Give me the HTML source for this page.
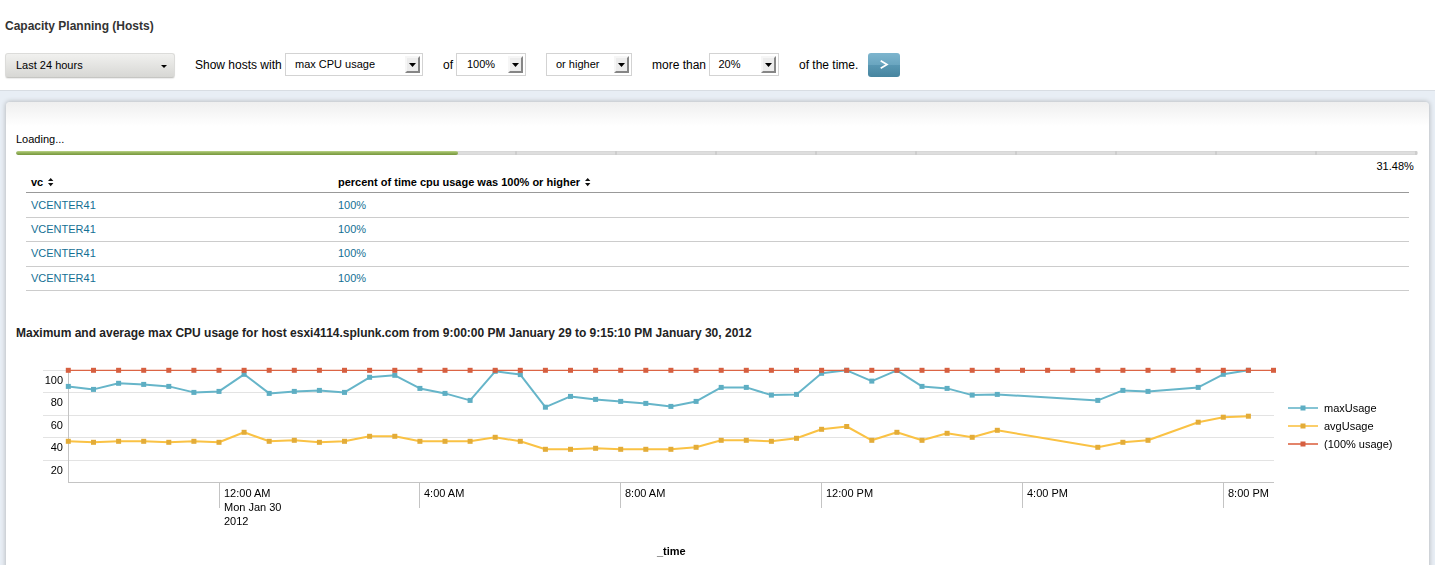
<!DOCTYPE html>
<html><head><meta charset="utf-8"><title>Capacity Planning (Hosts)</title>
<style>
html,body{margin:0;padding:0;background:#fff;}
body{width:1435px;height:565px;position:relative;overflow:hidden;font-family:"Liberation Sans",sans-serif;color:#000;}
.t{position:absolute;white-space:nowrap;font-size:12px;line-height:14px;color:#000;}
.b{font-weight:bold;}
.s11{font-size:11px;}
.s12{font-size:12px;}
.lnk{color:#146f94;}
.ax{font-size:11px;color:#000;will-change:transform;}
#band{position:absolute;left:0;top:90px;width:1435px;height:475px;background:#e8eef5;border-top:1px solid #d8dde3;box-sizing:border-box;}
#panel{position:absolute;left:6px;top:101.5px;width:1423px;height:480px;background:linear-gradient(#efefef 0px,#fff 24px);border-radius:4px;box-shadow:0 0 4px 1px #bdc0c4;}
#trp{position:absolute;left:5px;top:53px;width:170px;height:25px;box-sizing:border-box;border:1px solid #dcdcda;border-bottom-color:#c6c6c3;border-radius:3px;background:linear-gradient(#f1f1ef,#d7d7d4);box-shadow:0 1px 1px #ececec;}
.sel{position:absolute;top:53px;height:23px;box-sizing:border-box;border:1px solid #d3d3d3;background:#fff;}
.sel .arr{position:absolute;right:2px;top:2px;width:15px;height:17px;border-right:2px solid #868686;border-bottom:2px solid #868686;border-left:2px solid #f6f6f6;border-top:2px solid #f6f6f6;box-sizing:border-box;background:#ececec;}
.sel .arr:after{content:"";position:absolute;left:2px;top:5px;width:7px;height:4px;background:#000;clip-path:polygon(0 0,100% 0,50% 100%);}
#go{position:absolute;left:868px;top:53px;width:32px;height:24px;border-radius:3px;background:linear-gradient(#7db5ce 0%,#6aa5bf 49%,#5896b2 51%,#47859f 100%);color:#fff;font-size:13px;font-weight:bold;text-align:center;line-height:22px;}
.hr{position:absolute;left:26px;width:1383px;height:1px;background:#ccc;}
#pbar{position:absolute;left:16px;top:151px;width:1402px;height:4px;background:linear-gradient(#d2d2d2,#dedede 30%,#dedede 70%,#d2d2d2);border-radius:2px;overflow:hidden;}
#pfill{position:absolute;left:0;top:0;width:442px;height:4px;border-radius:2px;background:linear-gradient(#bcd489,#93b259 45%,#77973f);}
.ptick{position:absolute;top:0;width:2px;height:4px;background:#cdcdcd;}
</style></head><body>
<div class="t b" style="left:5px;top:19px;color:#333">Capacity Planning (Hosts)</div>
<div id="trp"></div>
<div class="t s11" style="left:16px;top:58px;">Last 24 hours</div>
<div style="position:absolute;left:160.5px;top:65px;border-left:3px solid transparent;border-right:3px solid transparent;border-top:3px solid #000;"></div>
<div class="t s12" style="left:195px;top:58px;">Show hosts with</div>
<div class="sel" style="left:285px;width:138px"><div class="arr"></div></div>
<div class="t s11" style="left:295px;top:57px;">max CPU usage</div>
<div class="t s12" style="left:443px;top:58px;">of</div>
<div class="sel" style="left:456px;width:70px"><div class="arr"></div></div>
<div class="t s11" style="left:467px;top:57px;">100%</div>
<div class="sel" style="left:546px;width:86px"><div class="arr"></div></div>
<div class="t s11" style="left:556px;top:57px;">or higher</div>
<div class="t s12" style="left:652px;top:58px;">more than</div>
<div class="sel" style="left:709px;width:70px"><div class="arr"></div></div>
<div class="t s11" style="left:718.5px;top:57px;">20%</div>
<div class="t s12" style="left:799px;top:58px;">of the time.</div>
<div id="go"><svg width="32" height="24" style="position:absolute;left:0;top:0"><polyline points="12.7,7.7 19,11.5 12.7,15.3" fill="none" stroke="#fff" stroke-width="1.7" stroke-linejoin="miter"/></svg></div>
<div id="band"></div><div id="panel"></div>
<div class="t s11" style="left:16px;top:132px;">Loading...</div>
<div id="pbar"><div class="ptick" style="left:99px"></div><div class="ptick" style="left:199px"></div><div class="ptick" style="left:299px"></div><div class="ptick" style="left:399px"></div><div class="ptick" style="left:499px"></div><div class="ptick" style="left:599px"></div><div class="ptick" style="left:699px"></div><div class="ptick" style="left:799px"></div><div class="ptick" style="left:899px"></div><div class="ptick" style="left:999px"></div><div class="ptick" style="left:1099px"></div><div class="ptick" style="left:1199px"></div><div class="ptick" style="left:1299px"></div><div class="ptick" style="left:1399px"></div><div id="pfill"></div></div>
<div class="t s11" style="left:1376.5px;top:159px;">31.48%</div>
<div class="t b s11" style="left:31px;top:175px;">vc</div>
<div class="t b s11" style="left:338px;top:175px;">percent of time cpu usage was 100% or higher</div>
<svg style="position:absolute;left:47.8px;top:178px" width="6" height="9" viewBox="0 0 6 9"><path d="M0 2.9 L2.7 0 L5.4 2.9 Z M0 4.9 L5.4 4.9 L2.7 8.2 Z" fill="#111"/></svg>
<svg style="position:absolute;left:584.8px;top:178px" width="6" height="9" viewBox="0 0 6 9"><path d="M0 2.9 L2.7 0 L5.4 2.9 Z M0 4.9 L5.4 4.9 L2.7 8.2 Z" fill="#111"/></svg>
<div class="hr" style="top:192px;background:#999"></div>
<div class="t lnk s11" style="left:31px;top:198px;">VCENTER41</div>
<div class="t lnk s11" style="left:338px;top:198px;">100%</div>
<div class="t lnk s11" style="left:31px;top:222px;">VCENTER41</div>
<div class="t lnk s11" style="left:338px;top:222px;">100%</div>
<div class="t lnk s11" style="left:31px;top:246px;">VCENTER41</div>
<div class="t lnk s11" style="left:338px;top:246px;">100%</div>
<div class="t lnk s11" style="left:31px;top:271px;">VCENTER41</div>
<div class="t lnk s11" style="left:338px;top:271px;">100%</div>
<div class="hr" style="top:217px"></div>
<div class="hr" style="top:241px"></div>
<div class="hr" style="top:266px"></div>
<div class="hr" style="top:290px"></div>
<div class="t b" style="left:16px;top:326px;color:#222">Maximum and average max CPU usage for host esxi4114.splunk.com from 9:00:00 PM January 29 to 9:15:10 PM January 30, 2012</div>
<svg id="chart" width="1435" height="565" style="position:absolute;left:0;top:0">
<line x1="43" x2="1274" y1="370.5" y2="370.5" stroke="#e3e3e3" stroke-width="1"/>
<line x1="43" x2="1274" y1="392.5" y2="392.5" stroke="#e3e3e3" stroke-width="1"/>
<line x1="43" x2="1274" y1="415.5" y2="415.5" stroke="#e3e3e3" stroke-width="1"/>
<line x1="43" x2="1274" y1="437.5" y2="437.5" stroke="#e3e3e3" stroke-width="1"/>
<line x1="43" x2="1274" y1="460.5" y2="460.5" stroke="#e3e3e3" stroke-width="1"/>
<line x1="68.5" x2="68.5" y1="370" y2="483" stroke="#c4c4c4" stroke-width="1"/>
<line x1="68" x2="1274" y1="482.5" y2="482.5" stroke="#c4c4c4" stroke-width="1"/>
<line x1="219.5" x2="219.5" y1="483" y2="508" stroke="#c4c4c4" stroke-width="1"/>
<line x1="419.5" x2="419.5" y1="483" y2="508" stroke="#c4c4c4" stroke-width="1"/>
<line x1="620.5" x2="620.5" y1="483" y2="508" stroke="#c4c4c4" stroke-width="1"/>
<line x1="821.5" x2="821.5" y1="483" y2="508" stroke="#c4c4c4" stroke-width="1"/>
<line x1="1022.5" x2="1022.5" y1="483" y2="508" stroke="#c4c4c4" stroke-width="1"/>
<line x1="1223.5" x2="1223.5" y1="483" y2="508" stroke="#c4c4c4" stroke-width="1"/>
<polyline points="68.3,386.4 93.5,389.4 118.6,383.3 143.7,384.4 168.8,386.4 193.9,392.4 219.0,391.4 244.1,374.3 269.2,393.4 294.3,391.4 319.4,390.4 344.5,392.4 369.6,377.3 394.8,375.3 419.9,388.4 445.0,393.4 470.1,400.4 495.2,371.3 520.3,374.6 545.4,407.2 570.5,396.4 595.6,399.4 620.7,401.4 645.8,403.4 670.9,406.4 696.1,401.4 721.2,387.4 746.3,387.4 771.4,395.1 796.5,394.4 821.6,373.3 846.7,370.3 871.8,381.1 896.9,370.3 922.0,386.4 947.1,388.4 972.2,395.1 997.3,394.4 1097.8,400.4 1122.9,390.4 1148.0,391.4 1198.2,387.4 1223.3,374.3 1248.4,370.3" fill="none" stroke="#66b5c9" stroke-width="2" stroke-linejoin="round"/>
<rect x="65.8" y="383.9" width="5" height="5" fill="#5eaec3"/><rect x="91.0" y="386.9" width="5" height="5" fill="#5eaec3"/><rect x="116.1" y="380.8" width="5" height="5" fill="#5eaec3"/><rect x="141.2" y="381.9" width="5" height="5" fill="#5eaec3"/><rect x="166.3" y="383.9" width="5" height="5" fill="#5eaec3"/><rect x="191.4" y="389.9" width="5" height="5" fill="#5eaec3"/><rect x="216.5" y="388.9" width="5" height="5" fill="#5eaec3"/><rect x="241.6" y="371.8" width="5" height="5" fill="#5eaec3"/><rect x="266.7" y="390.9" width="5" height="5" fill="#5eaec3"/><rect x="291.8" y="388.9" width="5" height="5" fill="#5eaec3"/><rect x="316.9" y="387.9" width="5" height="5" fill="#5eaec3"/><rect x="342.0" y="389.9" width="5" height="5" fill="#5eaec3"/><rect x="367.1" y="374.8" width="5" height="5" fill="#5eaec3"/><rect x="392.3" y="372.8" width="5" height="5" fill="#5eaec3"/><rect x="417.4" y="385.9" width="5" height="5" fill="#5eaec3"/><rect x="442.5" y="390.9" width="5" height="5" fill="#5eaec3"/><rect x="467.6" y="397.9" width="5" height="5" fill="#5eaec3"/><rect x="492.7" y="368.8" width="5" height="5" fill="#5eaec3"/><rect x="517.8" y="372.1" width="5" height="5" fill="#5eaec3"/><rect x="542.9" y="404.7" width="5" height="5" fill="#5eaec3"/><rect x="568.0" y="393.9" width="5" height="5" fill="#5eaec3"/><rect x="593.1" y="396.9" width="5" height="5" fill="#5eaec3"/><rect x="618.2" y="398.9" width="5" height="5" fill="#5eaec3"/><rect x="643.3" y="400.9" width="5" height="5" fill="#5eaec3"/><rect x="668.4" y="403.9" width="5" height="5" fill="#5eaec3"/><rect x="693.6" y="398.9" width="5" height="5" fill="#5eaec3"/><rect x="718.7" y="384.9" width="5" height="5" fill="#5eaec3"/><rect x="743.8" y="384.9" width="5" height="5" fill="#5eaec3"/><rect x="768.9" y="392.6" width="5" height="5" fill="#5eaec3"/><rect x="794.0" y="391.9" width="5" height="5" fill="#5eaec3"/><rect x="819.1" y="370.8" width="5" height="5" fill="#5eaec3"/><rect x="844.2" y="367.8" width="5" height="5" fill="#5eaec3"/><rect x="869.3" y="378.6" width="5" height="5" fill="#5eaec3"/><rect x="894.4" y="367.8" width="5" height="5" fill="#5eaec3"/><rect x="919.5" y="383.9" width="5" height="5" fill="#5eaec3"/><rect x="944.6" y="385.9" width="5" height="5" fill="#5eaec3"/><rect x="969.7" y="392.6" width="5" height="5" fill="#5eaec3"/><rect x="994.8" y="391.9" width="5" height="5" fill="#5eaec3"/><rect x="1095.3" y="397.9" width="5" height="5" fill="#5eaec3"/><rect x="1120.4" y="387.9" width="5" height="5" fill="#5eaec3"/><rect x="1145.5" y="388.9" width="5" height="5" fill="#5eaec3"/><rect x="1195.7" y="384.9" width="5" height="5" fill="#5eaec3"/><rect x="1220.8" y="371.8" width="5" height="5" fill="#5eaec3"/><rect x="1245.9" y="367.8" width="5" height="5" fill="#5eaec3"/>
<polyline points="68.3,441.3 93.5,442.3 118.6,441.3 143.7,441.3 168.8,442.3 193.9,441.3 219.0,442.3 244.1,432.3 269.2,441.3 294.3,440.3 319.4,442.3 344.5,441.3 369.6,436.3 394.8,436.3 419.9,441.3 445.0,441.3 470.1,441.3 495.2,437.3 520.3,441.3 545.4,449.3 570.5,449.3 595.6,448.3 620.7,449.3 645.8,449.3 670.9,449.3 696.1,447.3 721.2,440.3 746.3,440.3 771.4,441.3 796.5,438.3 821.6,429.3 846.7,426.5 871.8,440.3 896.9,432.3 922.0,440.3 947.1,433.3 972.2,437.3 997.3,430.3 1097.8,447.3 1122.9,442.3 1148.0,440.3 1198.2,422.2 1223.3,417.2 1248.4,416.2" fill="none" stroke="#fac244" stroke-width="2" stroke-linejoin="round"/>
<rect x="65.8" y="438.8" width="5" height="5" fill="#e3ac38"/><rect x="91.0" y="439.8" width="5" height="5" fill="#e3ac38"/><rect x="116.1" y="438.8" width="5" height="5" fill="#e3ac38"/><rect x="141.2" y="438.8" width="5" height="5" fill="#e3ac38"/><rect x="166.3" y="439.8" width="5" height="5" fill="#e3ac38"/><rect x="191.4" y="438.8" width="5" height="5" fill="#e3ac38"/><rect x="216.5" y="439.8" width="5" height="5" fill="#e3ac38"/><rect x="241.6" y="429.8" width="5" height="5" fill="#e3ac38"/><rect x="266.7" y="438.8" width="5" height="5" fill="#e3ac38"/><rect x="291.8" y="437.8" width="5" height="5" fill="#e3ac38"/><rect x="316.9" y="439.8" width="5" height="5" fill="#e3ac38"/><rect x="342.0" y="438.8" width="5" height="5" fill="#e3ac38"/><rect x="367.1" y="433.8" width="5" height="5" fill="#e3ac38"/><rect x="392.3" y="433.8" width="5" height="5" fill="#e3ac38"/><rect x="417.4" y="438.8" width="5" height="5" fill="#e3ac38"/><rect x="442.5" y="438.8" width="5" height="5" fill="#e3ac38"/><rect x="467.6" y="438.8" width="5" height="5" fill="#e3ac38"/><rect x="492.7" y="434.8" width="5" height="5" fill="#e3ac38"/><rect x="517.8" y="438.8" width="5" height="5" fill="#e3ac38"/><rect x="542.9" y="446.8" width="5" height="5" fill="#e3ac38"/><rect x="568.0" y="446.8" width="5" height="5" fill="#e3ac38"/><rect x="593.1" y="445.8" width="5" height="5" fill="#e3ac38"/><rect x="618.2" y="446.8" width="5" height="5" fill="#e3ac38"/><rect x="643.3" y="446.8" width="5" height="5" fill="#e3ac38"/><rect x="668.4" y="446.8" width="5" height="5" fill="#e3ac38"/><rect x="693.6" y="444.8" width="5" height="5" fill="#e3ac38"/><rect x="718.7" y="437.8" width="5" height="5" fill="#e3ac38"/><rect x="743.8" y="437.8" width="5" height="5" fill="#e3ac38"/><rect x="768.9" y="438.8" width="5" height="5" fill="#e3ac38"/><rect x="794.0" y="435.8" width="5" height="5" fill="#e3ac38"/><rect x="819.1" y="426.8" width="5" height="5" fill="#e3ac38"/><rect x="844.2" y="424.0" width="5" height="5" fill="#e3ac38"/><rect x="869.3" y="437.8" width="5" height="5" fill="#e3ac38"/><rect x="894.4" y="429.8" width="5" height="5" fill="#e3ac38"/><rect x="919.5" y="437.8" width="5" height="5" fill="#e3ac38"/><rect x="944.6" y="430.8" width="5" height="5" fill="#e3ac38"/><rect x="969.7" y="434.8" width="5" height="5" fill="#e3ac38"/><rect x="994.8" y="427.8" width="5" height="5" fill="#e3ac38"/><rect x="1095.3" y="444.8" width="5" height="5" fill="#e3ac38"/><rect x="1120.4" y="439.8" width="5" height="5" fill="#e3ac38"/><rect x="1145.5" y="437.8" width="5" height="5" fill="#e3ac38"/><rect x="1195.7" y="419.7" width="5" height="5" fill="#e3ac38"/><rect x="1220.8" y="414.7" width="5" height="5" fill="#e3ac38"/><rect x="1245.9" y="413.7" width="5" height="5" fill="#e3ac38"/>
<polyline points="68.3,370.3 93.5,370.3 118.6,370.3 143.7,370.3 168.8,370.3 193.9,370.3 219.0,370.3 244.1,370.3 269.2,370.3 294.3,370.3 319.4,370.3 344.5,370.3 369.6,370.3 394.8,370.3 419.9,370.3 445.0,370.3 470.1,370.3 495.2,370.3 520.3,370.3 545.4,370.3 570.5,370.3 595.6,370.3 620.7,370.3 645.8,370.3 670.9,370.3 696.1,370.3 721.2,370.3 746.3,370.3 771.4,370.3 796.5,370.3 821.6,370.3 846.7,370.3 871.8,370.3 896.9,370.3 922.0,370.3 947.1,370.3 972.2,370.3 997.3,370.3 1022.5,370.3 1047.6,370.3 1072.7,370.3 1097.8,370.3 1122.9,370.3 1148.0,370.3 1173.1,370.3 1198.2,370.3 1223.3,370.3 1248.4,370.3 1273.5,370.3" fill="none" stroke="#dc6545" stroke-width="1.3" stroke-linejoin="round"/>
<rect x="65.8" y="367.8" width="5" height="5" fill="#d65f40"/><rect x="91.0" y="367.8" width="5" height="5" fill="#d65f40"/><rect x="116.1" y="367.8" width="5" height="5" fill="#d65f40"/><rect x="141.2" y="367.8" width="5" height="5" fill="#d65f40"/><rect x="166.3" y="367.8" width="5" height="5" fill="#d65f40"/><rect x="191.4" y="367.8" width="5" height="5" fill="#d65f40"/><rect x="216.5" y="367.8" width="5" height="5" fill="#d65f40"/><rect x="241.6" y="367.8" width="5" height="5" fill="#d65f40"/><rect x="266.7" y="367.8" width="5" height="5" fill="#d65f40"/><rect x="291.8" y="367.8" width="5" height="5" fill="#d65f40"/><rect x="316.9" y="367.8" width="5" height="5" fill="#d65f40"/><rect x="342.0" y="367.8" width="5" height="5" fill="#d65f40"/><rect x="367.1" y="367.8" width="5" height="5" fill="#d65f40"/><rect x="392.3" y="367.8" width="5" height="5" fill="#d65f40"/><rect x="417.4" y="367.8" width="5" height="5" fill="#d65f40"/><rect x="442.5" y="367.8" width="5" height="5" fill="#d65f40"/><rect x="467.6" y="367.8" width="5" height="5" fill="#d65f40"/><rect x="492.7" y="367.8" width="5" height="5" fill="#d65f40"/><rect x="517.8" y="367.8" width="5" height="5" fill="#d65f40"/><rect x="542.9" y="367.8" width="5" height="5" fill="#d65f40"/><rect x="568.0" y="367.8" width="5" height="5" fill="#d65f40"/><rect x="593.1" y="367.8" width="5" height="5" fill="#d65f40"/><rect x="618.2" y="367.8" width="5" height="5" fill="#d65f40"/><rect x="643.3" y="367.8" width="5" height="5" fill="#d65f40"/><rect x="668.4" y="367.8" width="5" height="5" fill="#d65f40"/><rect x="693.6" y="367.8" width="5" height="5" fill="#d65f40"/><rect x="718.7" y="367.8" width="5" height="5" fill="#d65f40"/><rect x="743.8" y="367.8" width="5" height="5" fill="#d65f40"/><rect x="768.9" y="367.8" width="5" height="5" fill="#d65f40"/><rect x="794.0" y="367.8" width="5" height="5" fill="#d65f40"/><rect x="819.1" y="367.8" width="5" height="5" fill="#d65f40"/><rect x="844.2" y="367.8" width="5" height="5" fill="#d65f40"/><rect x="869.3" y="367.8" width="5" height="5" fill="#d65f40"/><rect x="894.4" y="367.8" width="5" height="5" fill="#d65f40"/><rect x="919.5" y="367.8" width="5" height="5" fill="#d65f40"/><rect x="944.6" y="367.8" width="5" height="5" fill="#d65f40"/><rect x="969.7" y="367.8" width="5" height="5" fill="#d65f40"/><rect x="994.8" y="367.8" width="5" height="5" fill="#d65f40"/><rect x="1020.0" y="367.8" width="5" height="5" fill="#d65f40"/><rect x="1045.1" y="367.8" width="5" height="5" fill="#d65f40"/><rect x="1070.2" y="367.8" width="5" height="5" fill="#d65f40"/><rect x="1095.3" y="367.8" width="5" height="5" fill="#d65f40"/><rect x="1120.4" y="367.8" width="5" height="5" fill="#d65f40"/><rect x="1145.5" y="367.8" width="5" height="5" fill="#d65f40"/><rect x="1170.6" y="367.8" width="5" height="5" fill="#d65f40"/><rect x="1195.7" y="367.8" width="5" height="5" fill="#d65f40"/><rect x="1220.8" y="367.8" width="5" height="5" fill="#d65f40"/><rect x="1245.9" y="367.8" width="5" height="5" fill="#d65f40"/><rect x="1271.0" y="367.8" width="5" height="5" fill="#d65f40"/>
<line x1="1288" x2="1318" y1="408" y2="408" stroke="#66b5c9" stroke-width="1.6"/><rect x="1300.5" y="405.5" width="5" height="5" fill="#5eaec3"/>
<line x1="1288" x2="1318" y1="426" y2="426" stroke="#fac244" stroke-width="1.6"/><rect x="1300.5" y="423.5" width="5" height="5" fill="#e3ac38"/>
<line x1="1288" x2="1318" y1="444" y2="444" stroke="#dc6545" stroke-width="1.6"/><rect x="1300.5" y="441.5" width="5" height="5" fill="#d65f40"/>
</svg>
<div class="t ax" style="left:0px;top:373px;width:63px;text-align:right;">100</div>
<div class="t ax" style="left:0px;top:395px;width:63px;text-align:right;">80</div>
<div class="t ax" style="left:0px;top:418px;width:63px;text-align:right;">60</div>
<div class="t ax" style="left:0px;top:440px;width:63px;text-align:right;">40</div>
<div class="t ax" style="left:0px;top:463px;width:63px;text-align:right;">20</div>
<div class="t ax" style="left:224px;top:486px;">12:00 AM<br>Mon Jan 30<br>2012</div>
<div class="t ax" style="left:424px;top:486px;">4:00 AM</div>
<div class="t ax" style="left:624.5px;top:486px;">8:00 AM</div>
<div class="t ax" style="left:826px;top:486px;">12:00 PM</div>
<div class="t ax" style="left:1026.5px;top:486px;">4:00 PM</div>
<div class="t ax" style="left:1228px;top:486px;">8:00 PM</div>
<div class="t b ax" style="left:657px;top:544px;">_time</div>
<div class="t ax" style="left:1324px;top:401px;">maxUsage</div>
<div class="t ax" style="left:1324px;top:419px;">avgUsage</div>
<div class="t ax" style="left:1324px;top:437px;">(100% usage)</div>
</body></html>
